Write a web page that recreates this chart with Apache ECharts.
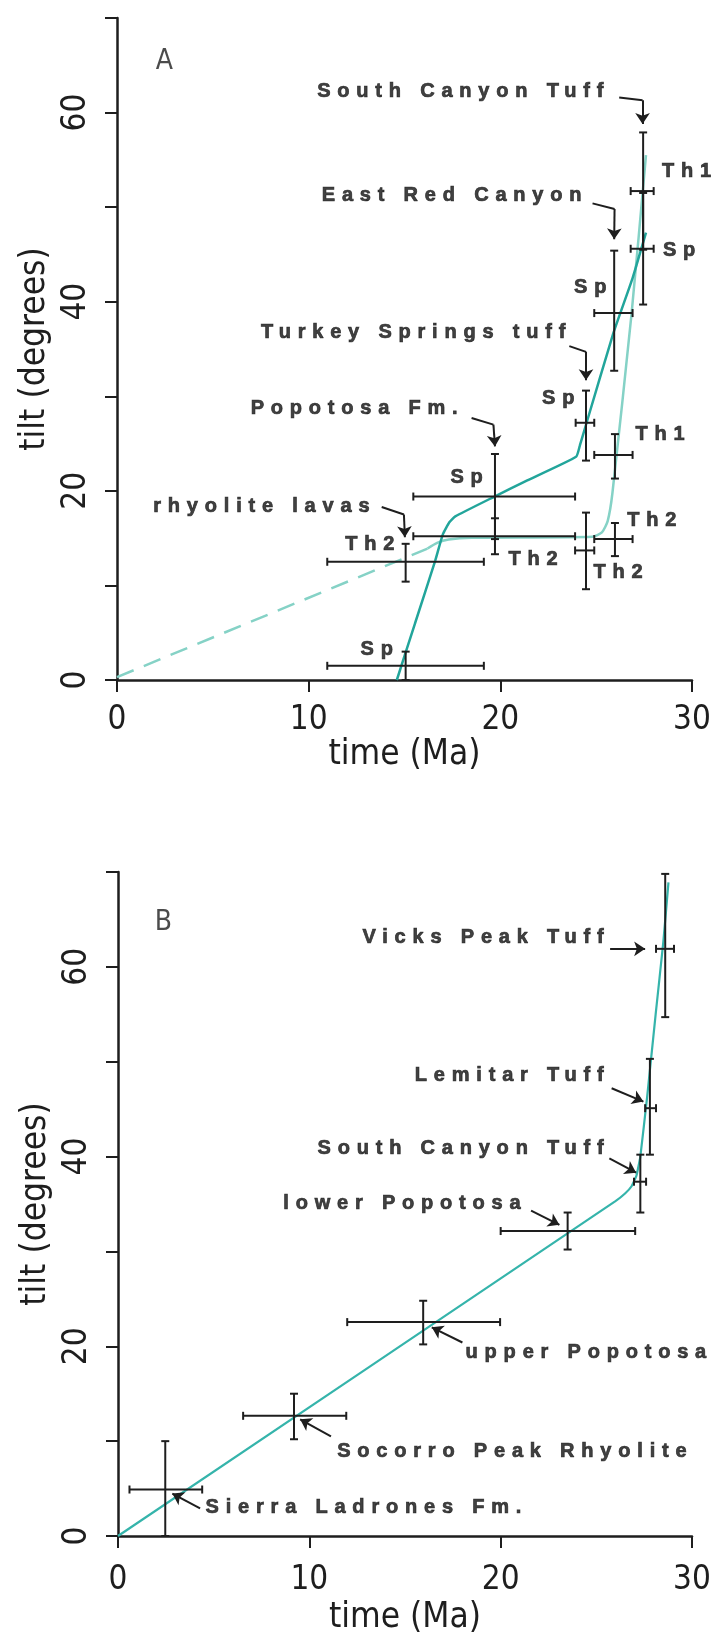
<!DOCTYPE html>
<html>
<head>
<meta charset="utf-8">
<script src="https://cdn.jsdelivr.net/npm/echarts@6/dist/echarts.min.js"></script>
<style>
  html, body { margin: 0; background: #fff; }
  #chart { width: 726px; height: 1636px; }
</style>
</head>
<body>
<div id="chart"></div>
<script>
// ---- panel A data (time Ma, tilt degrees) ----
// error bars: [t, tilt, tMin, tMax, tiltMin, tiltMax]
var barsA = [
  [27.45, 51.7, 26.8, 28.0, 45.5, 57.9],   // South Canyon Th1
  [27.45, 45.6, 26.8, 28.0, 39.7, 51.5],   // Sp
  [25.94, 38.8, 24.9, 26.9, 32.7, 45.4],   // East Red Canyon Sp
  [24.47, 27.2, 23.93, 24.9, 23.2, 30.6],  // Turkey Springs Sp
  [25.98, 23.8, 24.9, 26.9, 21.3, 26.0],   // Th1
  [19.72, 19.4, 15.46, 23.9, 14.9, 23.9],  // Popotosa Sp
  [19.72, 15.2, 15.46, 23.9, 13.3, 17.1],  // Popotosa Th2
  [15.06, 12.5, 10.97, 19.14, 10.4, 14.4], // rhyolite lavas Th2
  [15.06, 1.5, 10.97, 19.14, 0, 3.0],      // rhyolite lavas Sp
  [24.47, 13.7, 23.9, 24.9, 9.6, 17.7],    // Th2
  [25.98, 14.9, 24.9, 26.9, 13.1, 16.6]    // Th2
];
var spCurveA = [[14.6, 0], [15.55, 6], [16.6, 12.6], [17.0, 15.4], [17.35, 16.7], [17.65, 17.3],
  [19.7, 19.4], [21.3, 21.0], [23.95, 23.6], [24.15, 24.8], [24.5, 27.2], [25.9, 36.7],
  [26.9, 42.5], [27.6, 47.3]];
var thCurveA = [[16.2, 13.9], [16.7, 14.5], [17.3, 14.85], [18.5, 15.05], [24.8, 15.15],
  [25.3, 15.6], [25.6, 16.8], [25.85, 19.8], [26.85, 38.8], [27.6, 55.5]];
var thDashA = [[0, 0.3], [16.2, 13.9]];
// short bar tags: [text, t, tilt, side]
var tagsA = [
  ['Th1', 28.41, 53.8, 'r'], ['Sp', 28.46, 45.4, 'r'], ['Sp', 25.56, 41.5, 'l'],
  ['Sp', 23.89, 29.8, 'l'], ['Th1', 27.02, 26.0, 'r'], ['Sp', 19.11, 21.4, 'l'],
  ['Th2', 20.4, 12.7, 'r'], ['Th2', 14.5, 14.3, 'l'], ['Sp', 14.42, 3.25, 'l'],
  ['Th2', 24.83, 11.35, 'r'], ['Th2', 26.59, 16.86, 'r']
];
var unitsA = [
  ['South Canyon Tuff', 25.4, 62.25, 'l'], ['East Red Canyon', 24.26, 51.2, 'l'],
  ['Turkey Springs tuff', 23.42, 36.7, 'l'], ['Popotosa Fm.', 17.8, 28.7, 'l'],
  ['rhyolite lavas', 13.2, 18.3, 'l']
];
// hooked arrows: [start, bend, tip]
var hooksA = [
  [[26.2, 61.6], [27.42, 61.3], [27.42, 58.8]],
  [[24.81, 50.4], [25.96, 49.8], [25.94, 46.6]],
  [[23.6, 35.3], [24.47, 34.7], [24.47, 31.7]],
  [[18.5, 27.7], [19.64, 27.0], [19.72, 24.7]],
  [[13.81, 18.3], [14.97, 17.5], [15.02, 15.1]]
];

// ---- panel B data ----
var barsB = [
  [28.6, 61.9, 28.12, 29.06, 54.7, 69.8],  // Vicks Peak Tuff
  [27.8, 45.1, 27.55, 28.12, 40.2, 50.3],  // Lemitar Tuff
  [27.3, 37.35, 26.97, 27.6, 34.1, 40.2],  // South Canyon Tuff
  [23.5, 32.15, 20.0, 27.03, 30.2, 34.1],  // lower Popotosa
  [15.95, 22.55, 11.98, 19.97, 20.2, 24.8],// upper Popotosa
  [9.2, 12.67, 6.54, 11.93, 10.2, 15.0],   // Socorro Peak Rhyolite
  [2.47, 4.9, 0.6, 4.4, 0, 10.0]           // Sierra Ladrones Fm.
];
var curveB = [[0, 0], [26.0, 35.3], [26.5, 36.1], [26.85, 36.9], [27.1, 38.0], [27.3, 40],
  [27.65, 46.2], [28.1, 55], [28.5, 62.6], [28.77, 68.9]];
var unitsB = [
  ['Vicks Peak Tuff', 25.41, 63.1, 'l'], ['Lemitar Tuff', 25.41, 48.5, 'l'],
  ['South Canyon Tuff', 25.41, 40.8, 'l'], ['lower Popotosa', 21.07, 35.1, 'l'],
  ['upper Popotosa', 18.14, 19.3, 'r'], ['Socorro Peak Rhyolite', 11.43, 8.9, 'r'],
  ['Sierra Ladrones Fm.', 4.55, 3.0, 'r']
];
var arrowsB = [
  [[25.72, 61.9], [27.55, 61.9]],
  [[25.8, 47.2], [27.46, 45.8]],
  [[25.68, 39.8], [27.08, 38.3]],
  [[21.59, 34.3], [23.07, 32.8]],
  [[18.0, 20.4], [16.4, 22.0]],
  [[11.13, 10.5], [9.52, 12.3]],
  [[4.29, 2.9], [2.84, 4.47]]
];

var xTicks = [0, 10, 20, 30];
var yLabelStep = 20;

// lettering on the figure is widely tracked
var LS = 6.8;
function tracked(orig) {
  return function () {
    if (this.font.indexOf('Liberation Sans') < 0) return orig.apply(this, arguments);
    var old = this.letterSpacing;
    this.letterSpacing = LS + 'px';
    orig.apply(this, arguments);
    this.letterSpacing = old;
  };
}
CanvasRenderingContext2D.prototype.fillText = tracked(CanvasRenderingContext2D.prototype.fillText);
CanvasRenderingContext2D.prototype.strokeText = tracked(CanvasRenderingContext2D.prototype.strokeText);

var INK = '#1e1e1e';
var axisFont = "'DejaVu Sans Condensed', 'DejaVu Sans', sans-serif";
var tagFont = "'Liberation Sans', Arial, sans-serif";

function errorBar(params, api) {
  var t = api.value(0), v = api.value(1);
  var l = api.coord([api.value(2), v]), r = api.coord([api.value(3), v]);
  var b = api.coord([t, api.value(4)]), tp = api.coord([t, api.value(5)]);
  var c = 4, st = { stroke: INK, lineWidth: 2 };
  var segs = [
    [l[0], l[1], r[0], r[1]],
    [l[0], l[1] - c, l[0], l[1] + c],
    [r[0], r[1] - c, r[0], r[1] + c],
    [b[0], b[1], tp[0], tp[1]],
    [b[0] - c, b[1], b[0] + c, b[1]],
    [tp[0] - c, tp[1], tp[0] + c, tp[1]]
  ];
  return {
    type: 'group',
    children: segs.map(function (s) {
      return { type: 'line', shape: { x1: s[0], y1: s[1], x2: s[2], y2: s[3] }, style: st };
    })
  };
}

function textItems(list) {
  return list.map(function (d) {
    return {
      name: d[0], value: [d[1], d[2]],
      label: d[3] == 'l' ? { position: 'left', distance: -LS } : { position: 'right', distance: 0 }
    };
  });
}

function textSeries(list, gi) {
  return {
    type: 'scatter', xAxisIndex: gi, yAxisIndex: gi, silent: true,
    symbolSize: 1, itemStyle: { color: 'transparent' },
    data: textItems(list),
    label: {
      show: true, formatter: '{b}', color: '#111', fontFamily: tagFont,
      fontWeight: 'bold', fontSize: 20, textBorderColor: '#111', textBorderWidth: 0.7
    },
    emphasis: { disabled: true }, z: 5
  };
}

function segSeries(segs, gi, arrow) {
  return {
    type: 'lines', coordinateSystem: 'cartesian2d', xAxisIndex: gi, yAxisIndex: gi,
    silent: true, polyline: false,
    symbol: arrow ? ['none', 'arrow'] : ['none', 'none'], symbolSize: 11,
    lineStyle: { color: INK, width: 2, opacity: 1, curveness: 0 },
    data: segs.map(function (s) { return { coords: s }; }), z: 4
  };
}

function xAx(gi, margin, gap) {
  return {
    gridIndex: gi, type: 'value', min: 0, max: 30, interval: 10,
    axisLine: { lineStyle: { color: INK, width: 2.5 } },
    axisTick: { length: 12, lineStyle: { color: INK, width: 2 } },
    splitLine: { show: false },
    axisLabel: {
      margin: margin, color: INK, fontFamily: axisFont, fontSize: 33,
      formatter: function (v) { return xTicks.indexOf(v) >= 0 ? v : ''; }
    },
    name: 'time (Ma)', nameLocation: 'middle', nameGap: gap,
    nameTextStyle: { color: INK, fontFamily: axisFont, fontSize: 35 }
  };
}

function yAx(gi) {
  return {
    gridIndex: gi, type: 'value', min: 0, max: 70, interval: 10,
    axisLine: { lineStyle: { color: INK, width: 2.5 } },
    axisTick: { length: 12, lineStyle: { color: INK, width: 2 } },
    splitLine: { show: false },
    axisLabel: {
      rotate: 90, margin: 24, color: INK, fontFamily: axisFont, fontSize: 33,
      formatter: function (v) { return v % yLabelStep === 0 ? v : ''; }
    },
    name: 'tilt (degrees)', nameLocation: 'middle', nameGap: 64,
    nameTextStyle: { color: INK, fontFamily: axisFont, fontSize: 35 }
  };
}

var chart = echarts.init(document.getElementById('chart'), null, { renderer: 'canvas' });

var hookLines = [], hookTips = [];
hooksA.forEach(function (h) { hookLines.push([h[0], h[1]]); hookTips.push([h[1], h[2]]); });

var option = {
  animation: false,
  backgroundColor: '#fff',
  grid: [
    { left: 117, top: 18, width: 575, height: 662 },
    { left: 118, top: 872, width: 574, height: 669 }
  ],
  xAxis: [xAx(0, 24, 54), xAx(1, 28, 64)],
  yAxis: [yAx(0), yAx(1)],
  series: [
    // panel A
    { type: 'line', xAxisIndex: 0, yAxisIndex: 0, data: thDashA, showSymbol: false, silent: true,
      lineStyle: { color: '#85d2c6', width: 2.5, type: [18, 11] }, z: 2 },
    { type: 'line', xAxisIndex: 0, yAxisIndex: 0, data: thCurveA, showSymbol: false, silent: true,
      smooth: 0.2, lineStyle: { color: '#85d2c6', width: 2.5 }, z: 2 },
    { type: 'line', xAxisIndex: 0, yAxisIndex: 0, data: spCurveA, showSymbol: false, silent: true,
      smooth: 0.15, lineStyle: { color: '#22a59b', width: 2.5 }, z: 3 },
    { type: 'custom', xAxisIndex: 0, yAxisIndex: 0, data: barsA, renderItem: errorBar,
      encode: { x: 0, y: 1 }, silent: true, z: 4 },
    segSeries(hookLines, 0, false),
    segSeries(hookTips, 0, true),
    textSeries(tagsA, 0),
    textSeries(unitsA, 0),
    textSeries([['A', 2.0, 65.4, 'r']], 0),
    // panel B
    { type: 'line', xAxisIndex: 1, yAxisIndex: 1, data: curveB, showSymbol: false, silent: true,
      smooth: 0.1, lineStyle: { color: '#35b4ab', width: 2.2 }, z: 2 },
    { type: 'custom', xAxisIndex: 1, yAxisIndex: 1, data: barsB, renderItem: errorBar,
      encode: { x: 0, y: 1 }, silent: true, z: 4 },
    segSeries(arrowsB, 1, true),
    textSeries(unitsB, 1),
    textSeries([['B', 1.9, 64.7, 'r']], 1)
  ]
};
// panel letters use the plain axis lettering
option.series[8].label = { show: true, formatter: '{b}', color: INK, fontFamily: axisFont, fontSize: 28, textBorderWidth: 0 };
option.series[13].label = { show: true, formatter: '{b}', color: INK, fontFamily: axisFont, fontSize: 28, textBorderWidth: 0 };
chart.setOption(option);
</script>
</body>
</html>
